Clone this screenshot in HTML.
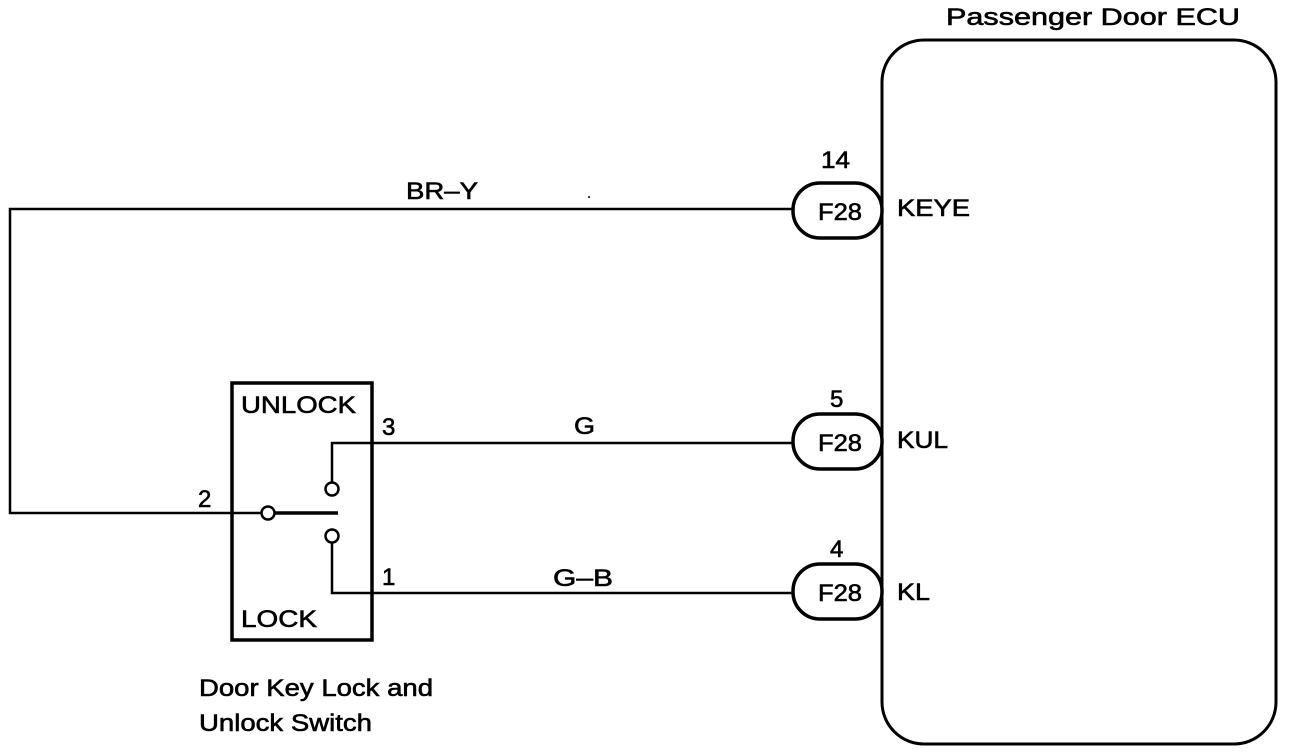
<!DOCTYPE html>
<html><head><style>
html,body{margin:0;padding:0;background:#fff;}
svg{display:block;}
text{font-family:"Liberation Sans",Arial,sans-serif;fill:#000;stroke:#000;stroke-width:0.6;}
</style></head><body>
<svg width="1296" height="752" viewBox="0 0 1296 752" xmlns="http://www.w3.org/2000/svg">
<g fill="none" stroke="#000" stroke-width="3">
<rect x="882" y="40" width="394" height="704" rx="42" ry="42"/>
<rect x="232" y="383" width="140" height="257" stroke-width="3.5"/>
</g>
<g fill="none" stroke="#000" stroke-width="2.5">
<polyline points="793,209 10,209 10,513 262,513"/>
<line x1="274" y1="513" x2="338" y2="513" stroke-width="3.5"/>
<polyline points="332,483 332,443 793,443"/>
<polyline points="332,542 332,593 793,593"/>
</g>
<g fill="#fff" stroke="#000" stroke-width="2.5">
<circle cx="268" cy="513" r="6.5"/>
<circle cx="332" cy="489" r="6.5"/>
<circle cx="332" cy="536" r="6.5"/>
</g>
<g fill="#fff" stroke="#000" stroke-width="3.5">
<rect x="793" y="183" width="89" height="55" rx="27"/>
<rect x="793" y="414" width="89" height="55" rx="27"/>
<rect x="793" y="564" width="89" height="55" rx="27"/>
</g>
<line x1="882" y1="180" x2="882" y2="625" stroke="#000" stroke-width="3"/>
<g font-size="24">
<text x="946" y="25" textLength="294" lengthAdjust="spacingAndGlyphs">Passenger Door ECU</text>
<text x="821" y="168" textLength="29" lengthAdjust="spacingAndGlyphs">14</text>
<text x="818" y="220" textLength="44" lengthAdjust="spacingAndGlyphs">F28</text>
<text x="897" y="216" textLength="73" lengthAdjust="spacingAndGlyphs">KEYE</text>
<text x="830" y="407">5</text>
<text x="818" y="451" textLength="44" lengthAdjust="spacingAndGlyphs">F28</text>
<text x="897" y="448" textLength="51" lengthAdjust="spacingAndGlyphs">KUL</text>
<text x="830" y="557">4</text>
<text x="818" y="601" textLength="44" lengthAdjust="spacingAndGlyphs">F28</text>
<text x="897" y="600" textLength="33" lengthAdjust="spacingAndGlyphs">KL</text>
<text x="406" y="199" textLength="72" lengthAdjust="spacingAndGlyphs">BR–Y</text>
<text x="574" y="434" textLength="21" lengthAdjust="spacingAndGlyphs">G</text>
<text x="553" y="586" textLength="60" lengthAdjust="spacingAndGlyphs">G–B</text>
<text x="241" y="413" textLength="115" lengthAdjust="spacingAndGlyphs">UNLOCK</text>
<text x="241" y="627" textLength="76" lengthAdjust="spacingAndGlyphs">LOCK</text>
<text x="382" y="435">3</text>
<text x="382" y="585">1</text>
<text x="198" y="507">2</text>
<text x="199" y="696" textLength="234" lengthAdjust="spacingAndGlyphs">Door Key Lock and</text>
<text x="199" y="731" textLength="173" lengthAdjust="spacingAndGlyphs">Unlock Switch</text>
</g>
<circle cx="589" cy="197" r="1" fill="#000"/>
</svg>
</body></html>
